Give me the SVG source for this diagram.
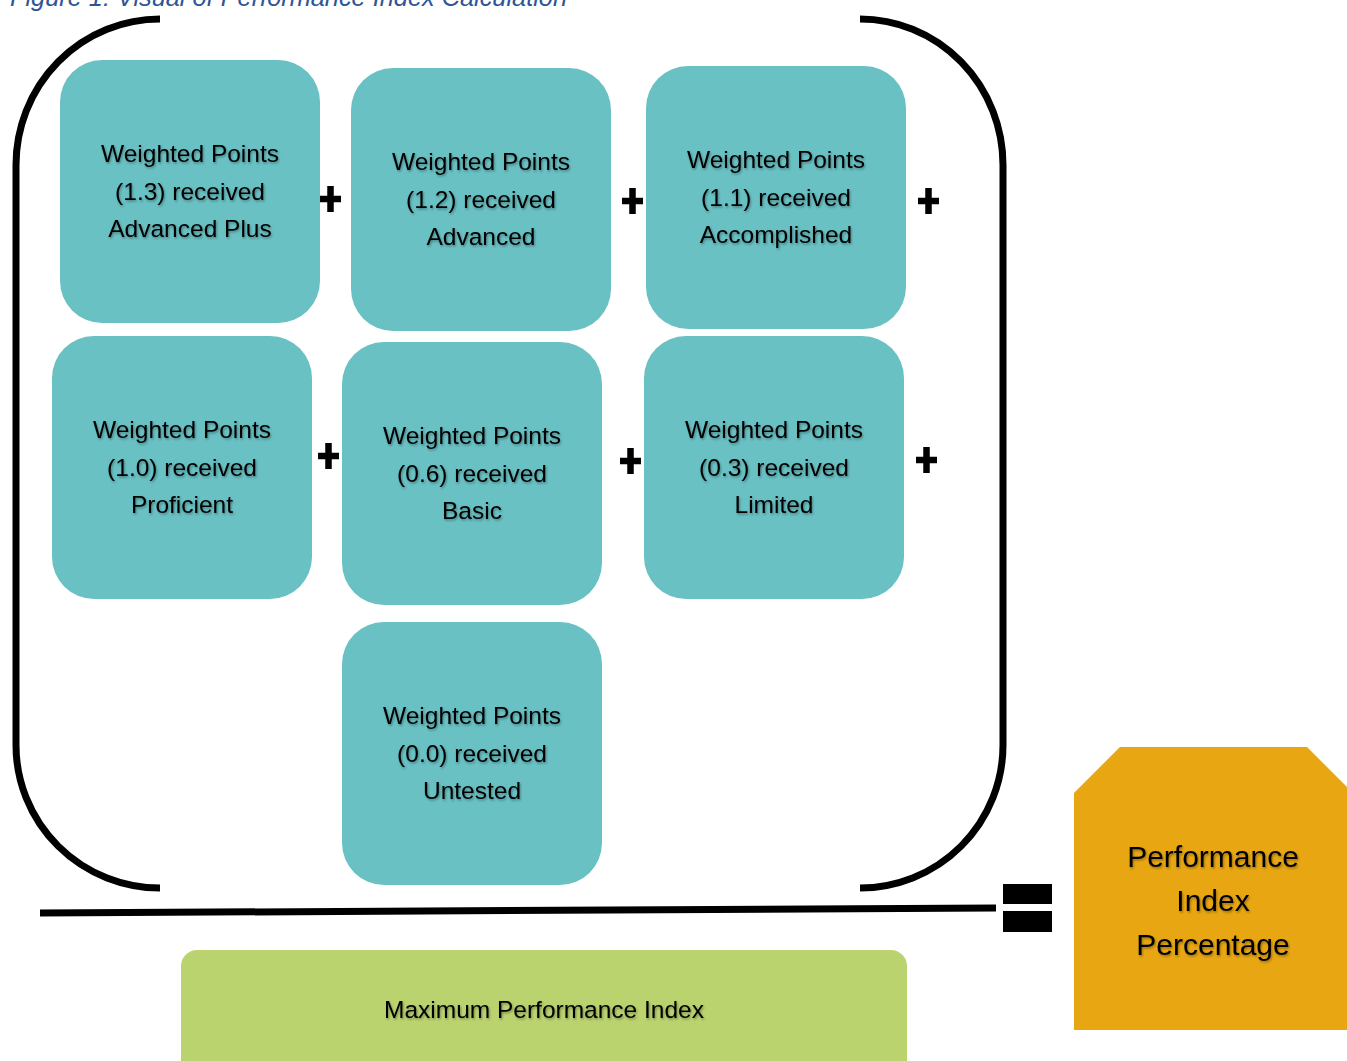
<svg xmlns="http://www.w3.org/2000/svg" width="1347" height="1061" viewBox="0 0 1347 1061">
<defs>
<filter id="ts" x="-10%" y="-30%" width="120%" height="160%">
<feDropShadow dx="1" dy="1.5" stdDeviation="1" flood-color="#000" flood-opacity="0.35"/>
</filter>
</defs>
<style>
.box{fill:#69c1c4;}
.t{font-family:"Liberation Sans",Arial,sans-serif;font-size:24.5px;fill:#000;text-anchor:middle;filter:url(#ts);}
.big{font-size:30px;}
.br{fill:none;stroke:#000;stroke-width:7;}
.plus{fill:none;stroke:#000;stroke-width:6.5;}
.title{font-family:"Liberation Sans",Arial,sans-serif;font-style:italic;font-size:25px;fill:#2f5597;}
</style>
<rect width="1347" height="1061" fill="#fff"/>
<text class="title" x="10" y="6" textLength="557" lengthAdjust="spacingAndGlyphs">Figure 1: Visual of Performance Index Calculation</text>

<g id="connectors">
<path class="br" d="M160,19 A144,146 0 0 0 16,165 L16,745 A144,143 0 0 0 160,888"/>
<path class="br" d="M860,19 A143,146 0 0 1 1003,165 L1003,745 A143,143 0 0 1 860,888"/>
<line x1="40" y1="913" x2="996" y2="908" stroke="#000" stroke-width="7"/>
<rect x="1003" y="884" width="49" height="20" fill="#000"/>
<rect x="1003" y="911" width="49" height="21" fill="#000"/>
<path class="plus" d="M320,199 h21 M330.5,186 v26"/>
<path class="plus" d="M622,201 h21 M632.5,188 v26"/>
<path class="plus" d="M918,201 h21 M928.5,188 v26"/>
<path class="plus" d="M318,456 h21 M328.5,443 v26"/>
<path class="plus" d="M620,461 h21 M630.5,448 v26"/>
<path class="plus" d="M916,460 h21 M926.5,447 v26"/>
</g>

<g id="node-advanced-plus">
<rect class="box" x="60" y="60" width="260" height="263" rx="42"/>
<text class="t" x="190" y="162">Weighted Points</text>
<text class="t" x="190" y="199.5">(1.3) received</text>
<text class="t" x="190" y="237">Advanced Plus</text>
</g>
<g id="node-advanced">
<rect class="box" x="351" y="68" width="260" height="263" rx="42"/>
<text class="t" x="481" y="170">Weighted Points</text>
<text class="t" x="481" y="207.5">(1.2) received</text>
<text class="t" x="481" y="245">Advanced</text>
</g>
<g id="node-accomplished">
<rect class="box" x="646" y="66" width="260" height="263" rx="42"/>
<text class="t" x="776" y="168">Weighted Points</text>
<text class="t" x="776" y="205.5">(1.1) received</text>
<text class="t" x="776" y="243">Accomplished</text>
</g>
<g id="node-proficient">
<rect class="box" x="52" y="336" width="260" height="263" rx="42"/>
<text class="t" x="182" y="438">Weighted Points</text>
<text class="t" x="182" y="475.5">(1.0) received</text>
<text class="t" x="182" y="513">Proficient</text>
</g>
<g id="node-basic">
<rect class="box" x="342" y="342" width="260" height="263" rx="42"/>
<text class="t" x="472" y="444">Weighted Points</text>
<text class="t" x="472" y="481.5">(0.6) received</text>
<text class="t" x="472" y="519">Basic</text>
</g>
<g id="node-limited">
<rect class="box" x="644" y="336" width="260" height="263" rx="42"/>
<text class="t" x="774" y="438">Weighted Points</text>
<text class="t" x="774" y="475.5">(0.3) received</text>
<text class="t" x="774" y="513">Limited</text>
</g>
<g id="node-untested">
<rect class="box" x="342" y="622" width="260" height="263" rx="42"/>
<text class="t" x="472" y="724">Weighted Points</text>
<text class="t" x="472" y="761.5">(0.0) received</text>
<text class="t" x="472" y="799">Untested</text>
</g>
<g id="node-max-index">
<rect x="181" y="950" width="726" height="130" rx="16" fill="#bad36f"/>
<text class="t" x="544" y="1018">Maximum Performance Index</text>
</g>
<g id="node-pi-percentage">
<polygon points="1074,793 1120,747 1307,747 1347,787 1347,1030 1074,1030" fill="#e8a712"/>
<text class="t big" x="1213" y="867">Performance</text>
<text class="t big" x="1213" y="911">Index</text>
<text class="t big" x="1213" y="955">Percentage</text>
</g>
</svg>
